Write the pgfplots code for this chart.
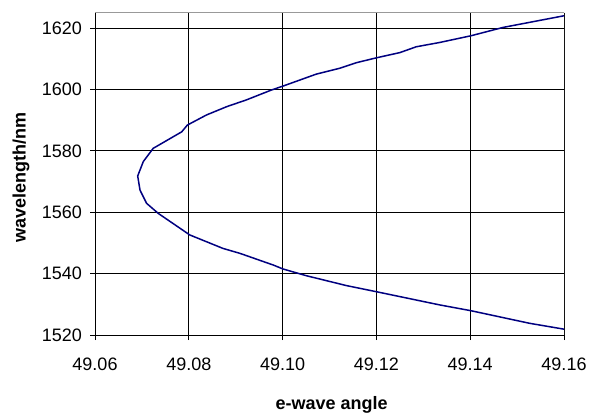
\documentclass[border=0pt]{standalone}
\usepackage{pgfplots}
\pgfplotsset{compat=1.18}
\usepackage{fontspec}
\setmainfont{Liberation Sans}
\definecolor{curve}{RGB}{0,0,128}
\begin{document}
\fontsize{18bp}{21bp}\selectfont
\begin{tikzpicture}
\useasboundingbox (0,0) rectangle (590bp,414bp);
\begin{axis}[
  at={(95bp,79bp)}, anchor=south west,
  scale only axis, width=469bp, height=322.3bp,
  xmin=49.06, xmax=49.16, ymin=1520, ymax=1625,
  xtick={49.06,49.08,49.10,49.12,49.14,49.16},
  ytick={1520,1540,1560,1580,1600,1620},
  axis x line*=bottom, axis y line*=left,
  axis line style={black, line width=1bp, -},
  tick align=outside, major tick length=5bp,
  tick style={black, line width=1bp},
  grid=major, major grid style={black, line width=0.8bp},
  /pgf/number format/assume math mode=true,
  xticklabel style={yshift=-12bp, /pgf/number format/.cd, fixed, precision=2, fixed zerofill},
  yticklabel style={xshift=-2bp, /pgf/number format/.cd, fixed, set thousands separator={}},
  xlabel={\textbf{e-wave angle}},
  ylabel={\textbf{wavelength/nm}},
  xlabel style={at={(axis description cs:0.5047,-0.2327)}, anchor=base},
  ylabel style={at={(axis description cs:-0.158,0.489)}, anchor=center},
  clip=true,
]
\addplot[curve, line width=1.5bp, line join=round] coordinates {
(49.16,1521.9)
(49.1527,1523.8)
(49.1402,1527.9)
(49.1335,1529.8)
(49.1200,1534.1)
(49.1136,1536.1)
(49.1051,1539.3)
(49.1001,1541.5)
(49.0980,1542.8)
(49.0909,1546.6)
(49.0873,1548.2)
(49.0802,1552.6)
(49.0781,1554.8)
(49.0735,1559.6)
(49.0710,1562.9)
(49.0696,1567.2)
(49.0691,1571.8)
(49.0703,1576.5)
(49.0724,1580.8)
(49.0785,1586.2)
(49.0797,1588.4)
(49.0838,1591.7)
(49.0881,1594.4)
(49.0923,1596.6)
(49.0976,1599.8)
(49.1001,1601.1)
(49.1072,1605.0)
(49.1122,1606.9)
(49.1157,1608.7)
(49.1200,1610.3)
(49.1250,1612.0)
(49.1285,1613.9)
(49.1335,1615.3)
(49.1402,1617.5)
(49.1470,1620.2)
(49.16,1624.0)
};
\draw[gray!80, line width=1bp] (rel axis cs:0,1) -- (rel axis cs:1,1) -- (rel axis cs:1,0);
\end{axis}
\end{tikzpicture}
\end{document}
